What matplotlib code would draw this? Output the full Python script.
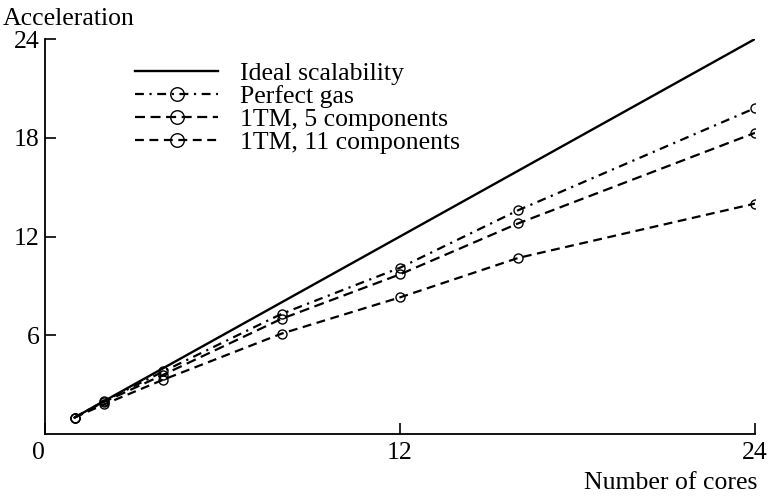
import matplotlib
matplotlib.use('Agg')
import matplotlib.pyplot as plt

plt.rcParams['font.family'] = ['Liberation Serif', 'DejaVu Serif']

cores = [1, 2, 4, 8, 12, 16, 24]
ideal = [1, 2, 4, 8, 12, 16, 24]
perfect_gas = [1, 2.0, 3.8, 7.3, 10.1, 13.6, 19.8]
tm_5 = [1, 1.95, 3.6, 7.0, 9.7, 12.8, 18.3]
tm_11 = [1, 1.8, 3.3, 6.1, 8.3, 10.7, 14.0]

labels = ['Ideal scalability', 'Perfect gas', '1TM, 5 components', '1TM, 11 components']
xticks = [0, 12, 24]
yticks = [6, 12, 18, 24]

fs = 18.5

fig = plt.figure(figsize=(7.7, 4.99), dpi=100)
ax = fig.add_axes([0.0584, 0.1303, 0.9221, 0.7915])

mk = dict(marker='o', markersize=6.5, markerfacecolor='none', markeredgecolor='black',
          markeredgewidth=1.0, color='black', linewidth=1.6)

ax.plot(cores, ideal, color='black', linewidth=1.7, label=labels[0])
ax.plot(cores, perfect_gas, dashes=(4, 2.5, 1, 2.5), label=labels[1], **mk)
ax.plot(cores, tm_5, dashes=(4.5, 2.5), label=labels[2], **mk)
ax.plot(cores, tm_11, dashes=(4, 2.5), label=labels[3], **mk)

ax.set_xlim(0, 24)
ax.set_ylim(0, 24)
ax.set_xticks(xticks)
ax.set_yticks(yticks)
ax.tick_params(direction='in', length=8, width=1.2, labelsize=fs)
ax.tick_params(axis='x', pad=6)
ax.tick_params(axis='y', pad=4)
ax.get_xticklabels()[0].set_horizontalalignment('right')
ax.spines['top'].set_visible(False)
ax.spines['right'].set_visible(False)
for s in ('left', 'bottom'):
    ax.spines[s].set_linewidth(1.3)

fig.text(0.004, 0.962, 'Acceleration', fontsize=fs, ha='left', va='center')
fig.text(0.984, 0.032, 'Number of cores', fontsize=fs, ha='right', va='center')

ax.legend(loc='upper left', bbox_to_anchor=(0.175, 0.876), bbox_transform=fig.transFigure,
          frameon=False, fontsize=fs, handlelength=3.25, handletextpad=0.85,
          labelspacing=0.0, borderpad=0, borderaxespad=0, markerscale=1.5)

fig.savefig('out.png', dpi=100)
